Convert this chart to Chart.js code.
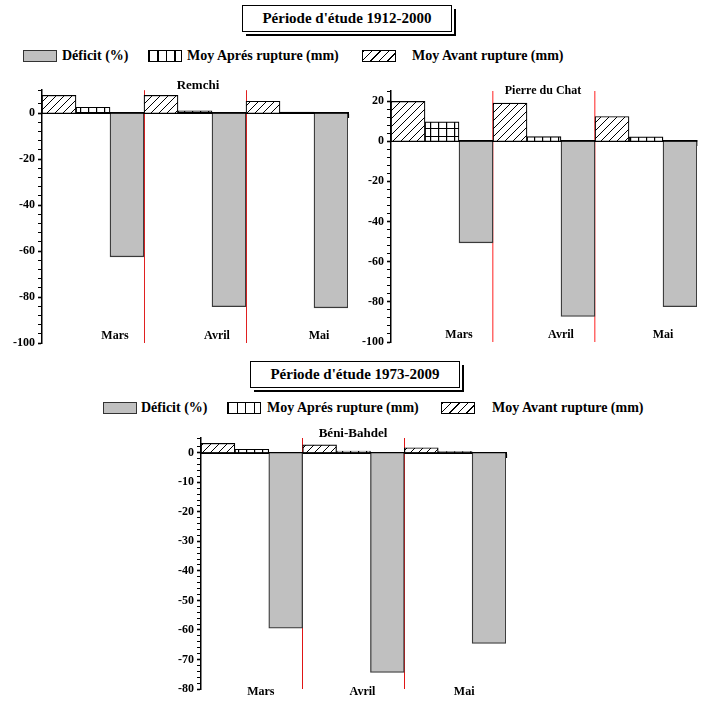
<!DOCTYPE html>
<html>
<head>
<meta charset="utf-8">
<script src="https://cdn.jsdelivr.net/npm/chart.js@4.4.1/dist/chart.umd.min.js"></script>
<style>
  html, body { margin: 0; padding: 0; background: #fff; }
  #page { position: relative; width: 705px; height: 702px; overflow: hidden; font-family: "Liberation Serif", "Times New Roman", serif; font-weight: bold; color: #000; }
  .abs { position: absolute; }
  .tbox { position: absolute; border: 1px solid #000; background: #fff; box-sizing: border-box; text-align: center; font-size: 15px; box-shadow: 2px 2px 0 #fff, 4px 4px 0 #000; }
  .sw { position: absolute; box-sizing: border-box; height: 12px; width: 34px; }
  .sw.def { background: #c0c0c0; border: 1px solid #333; }
  .sw.apr { background: #fff repeating-linear-gradient(90deg, #000 0 1.3px, transparent 1.3px 8.5px); border: 1.3px solid #000; }
  .sw.avt { background: #fff repeating-linear-gradient(135deg, #000 0 1px, transparent 1px 6px); border: 1px solid #000; }
  .lt { position: absolute; font-size: 14px; line-height: 16px; white-space: nowrap; }
  .ct { position: absolute; width: 200px; text-align: center; font-size: 13px; line-height: 16px; white-space: nowrap; z-index: 5; }
  canvas { display: block; }
  .cw { position: absolute; }
</style>
</head>
<body>
<div id="page">
  <div class="tbox" style="left:242px; top:5px; width:210px; height:27px; line-height:25px;">Période d'étude 1912-2000</div>

  <div class="sw def" style="left:23px; top:50px;"></div>
  <div class="lt" style="left:62px; top:48px;">Déficit (%)</div>
  <div class="sw apr" style="left:148px; top:50px;"></div>
  <div class="lt" style="left:187px; top:48px;">Moy Aprés rupture (mm)</div>
  <div class="sw avt" style="left:362px; top:50px;"></div>
  <div class="lt" style="left:412px; top:48px;">Moy Avant rupture (mm)</div>

  <div class="ct" style="left:98px; top:77px;">Remchi</div>
  <div class="ct" style="left:443px; top:82px; font-size:12px;">Pierre du Chat</div>

  <div class="cw" style="left:0px; top:80px; width:360px; height:275px;"><canvas id="c1" width="360" height="275"></canvas></div>
  <div class="cw" style="left:350px; top:80px; width:355px; height:275px;"><canvas id="c2" width="355" height="275"></canvas></div>

  <div class="tbox" style="left:250px; top:361px; width:210px; height:27px; line-height:25px;">Période d'étude 1973-2009</div>

  <div class="sw def" style="left:103px; top:402px;"></div>
  <div class="lt" style="left:141px; top:400px;">Déficit (%)</div>
  <div class="sw apr" style="left:227px; top:402px;"></div>
  <div class="lt" style="left:267px; top:400px;">Moy Aprés rupture (mm)</div>
  <div class="sw avt" style="left:441px; top:402px;"></div>
  <div class="lt" style="left:492px; top:400px;">Moy Avant rupture (mm)</div>

  <div class="ct" style="left:253px; top:425px;">Béni-Bahdel</div>

  <div class="cw" style="left:150px; top:425px; width:370px; height:277px;"><canvas id="c3" width="370" height="277"></canvas></div>
</div>

<script>
// ---- Data ----
const months = ["Mars", "Avril", "Mai"];

const remchiAvant = [7.8, 7.8, 5.2];
const remchiApres = [2.6, 1.0, 0.5];
const remchiDeficit = [-62.5, -84.2, -84.7];

const pierreAvant = [19.8, 19.0, 12.3];
const pierreApres = [9.6, 2.3, 2.2];
const pierreDeficit = [-50.6, -87.3, -82.4];

const beniAvant = [3.2, 2.7, 1.7];
const beniApres = [1.2, 0.6, 0.4];
const beniDeficit = [-59.4, -74.4, -64.6];

// ---- Patterns ----
function hatchPattern() {
  const c = document.createElement('canvas');
  c.width = 8; c.height = 8;
  const g = c.getContext('2d');
  g.fillStyle = '#fff'; g.fillRect(0, 0, 8, 8);
  g.strokeStyle = '#000'; g.lineWidth = 1;
  g.beginPath();
  g.moveTo(0, 8); g.lineTo(8, 0);
  g.moveTo(-1, 1); g.lineTo(1, -1);
  g.moveTo(7, 9); g.lineTo(9, 7);
  g.stroke();
  return g.createPattern(c, 'repeat');
}
function gridPattern() {
  const c = document.createElement('canvas');
  c.width = 8; c.height = 8;
  const g = c.getContext('2d');
  g.fillStyle = '#fff'; g.fillRect(0, 0, 8, 8);
  g.fillStyle = '#000';
  g.fillRect(0, 0, 1.2, 8);
  g.fillRect(0, 0, 8, 1);
  return g.createPattern(c, 'repeat');
}
const HATCH = hatchPattern();
const GRID = gridPattern();

Chart.defaults.font.family = '"Liberation Serif", "Times New Roman", serif';
Chart.defaults.font.weight = 'bold';
Chart.defaults.color = '#000';

const monthLabels = {
  id: 'monthLabels',
  afterDraw(chart, args, opts) {
    const xs = chart.scales.x;
    const ctx = chart.ctx;
    ctx.save();
    ctx.font = 'bold 12px "Liberation Serif", serif';
    ctx.fillStyle = '#000';
    ctx.textAlign = 'center';
    ctx.textBaseline = 'middle';
    chart.data.labels.forEach((lab, i) => {
      ctx.fillText(lab, xs.getPixelForValue(i) + opts.dx, chart.chartArea.bottom + opts.dy);
    });
    ctx.restore();
  }
};

function makeChart(id, avant, apres, deficit, cfg) {
  return new Chart(document.getElementById(id), {
    type: 'bar',
    data: {
      labels: months,
      datasets: [
        { label: 'Moy Avant rupture (mm)', data: avant, backgroundColor: HATCH, borderColor: '#000', borderWidth: 1.2 },
        { label: 'Moy Aprés rupture (mm)', data: apres, backgroundColor: GRID, borderColor: '#000', borderWidth: 1.2 },
        { label: 'Déficit (%)', data: deficit, backgroundColor: '#c0c0c0', borderColor: '#3a3a3a', borderWidth: 1.3 }
      ]
    },
    options: {
      responsive: false,
      animation: false,
      events: [],
      layout: { padding: cfg.padding },
      datasets: { bar: { categoryPercentage: 1, barPercentage: 1 } },
      plugins: {
        legend: { display: false },
        tooltip: { enabled: false },
        title: { display: false },
        monthLabels: { dx: cfg.dx, dy: cfg.dy }
      },
      scales: {
        x: {
          type: 'category',
          position: { y: 0 },
          offset: true,
          z: 1,
          grid: {
            offset: true,
            drawOnChartArea: true,
            drawTicks: true,
            tickLength: 4,
            lineWidth: cfg.redWidth,
            color: (c) => (c.index === 1 || c.index === 2) ? cfg.red : 'rgba(0,0,0,0)',
            tickColor: (c) => (c.index === undefined) ? '#000' : 'rgba(0,0,0,0)',
            tickWidth: 1.2
          },
          border: { display: true, color: '#000', width: 2 },
          ticks: { display: false }
        },
        y: {
          min: cfg.min,
          max: cfg.max,
          afterFit: (s) => { s.width = cfg.yWidth; },
          grid: {
            drawOnChartArea: false,
            drawTicks: true,
            tickLength: 4,
            tickColor: '#000',
            tickWidth: (c) => (c.tick && c.tick.value % cfg.major === 0) ? 1.6 : 1
          },
          border: { display: true, color: '#000', width: 1.5 },
          ticks: {
            stepSize: cfg.minor,
            autoSkip: false,
            padding: 3,
            font: { size: 12, weight: 'bold' },
            color: '#000',
            callback: (v) => (v % cfg.major === 0) ? String(v) : ''
          }
        }
      }
    },
    plugins: [monthLabels]
  });
}

makeChart('c1', remchiAvant, remchiApres, remchiDeficit, {
  min: -100, max: 10, minor: 4, major: 20, yWidth: 40,
  padding: { left: 2, right: 12, top: 10, bottom: 12 },
  red: '#e02020', redWidth: 1, dx: 22, dy: -7
});
makeChart('c2', pierreAvant, pierreApres, pierreDeficit, {
  min: -100, max: 25, minor: 4, major: 20, yWidth: 38,
  padding: { left: 3, right: 8, top: 11, bottom: 13 },
  red: '#ff6a6a', redWidth: 1.5, dx: 17, dy: -7
});
makeChart('c3', beniAvant, beniApres, beniDeficit, {
  min: -80, max: 5, minor: 2, major: 10, yWidth: 40,
  padding: { left: 11, right: 14, top: 13, bottom: 13 },
  red: '#e01515', redWidth: 1, dx: 9, dy: 3
});
</script>
</body>
</html>
